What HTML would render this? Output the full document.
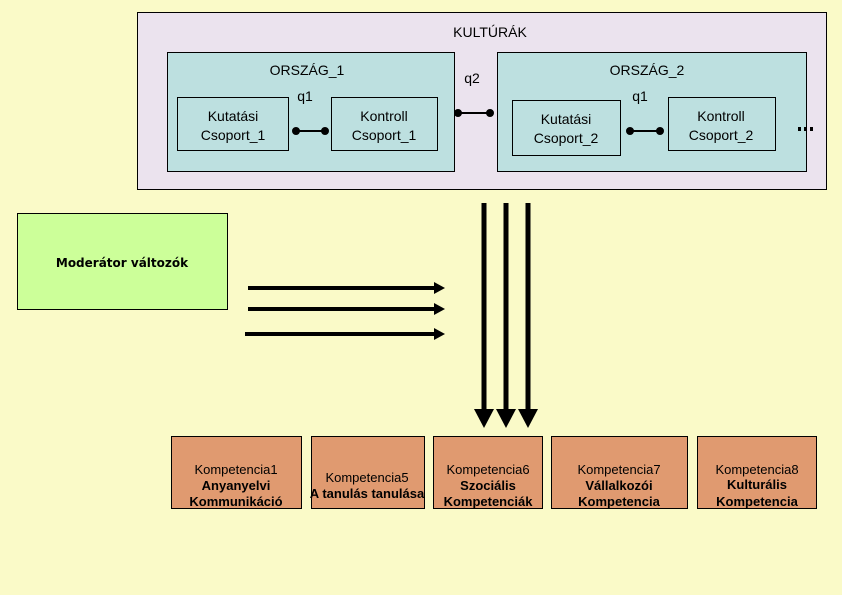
<!DOCTYPE html>
<html><head><meta charset="utf-8"><style>
body{margin:0;width:842px;height:595px;background:#fafac8;overflow:hidden}
svg{display:block}
text{font-family:"Liberation Sans",sans-serif;font-size:13px;fill:#000;text-anchor:middle}
.b{font-weight:bold}
.t{font-size:14px}
</style></head><body>
<svg width="842" height="595" viewBox="0 0 842 595">
<rect x="0" y="0" width="842" height="595" fill="#fafac8"/>
<rect x="137.5" y="12.5" width="689" height="177" fill="#ebe3ee" stroke="#000"/>
<text x="490" y="37" class="t">KULTÚRÁK</text>
<rect x="167.5" y="52.5" width="287" height="119" fill="#bde0e0" stroke="#000"/>
<rect x="497.5" y="52.5" width="309" height="119" fill="#bde0e0" stroke="#000"/>
<text x="307" y="75" class="t">ORSZÁG_1</text>
<text x="647" y="75" class="t">ORSZÁG_2</text>
<text x="472" y="83" class="t">q2</text>
<text x="305" y="101" class="t">q1</text>
<text x="640" y="101" class="t">q1</text>
<rect x="177.5" y="97.5" width="111" height="53" fill="#bde0e0" stroke="#000"/>
<rect x="331.5" y="97.5" width="106" height="53" fill="#bde0e0" stroke="#000"/>
<rect x="512.5" y="100.5" width="108" height="55" fill="#bde0e0" stroke="#000"/>
<rect x="668.5" y="97.5" width="107" height="53" fill="#bde0e0" stroke="#000"/>
<text x="233" y="121" class="t">Kutatási</text><text x="233" y="140" class="t">Csoport_1</text>
<text x="384" y="121" class="t">Kontroll</text><text x="384" y="140" class="t">Csoport_1</text>
<text x="566" y="124" class="t">Kutatási</text><text x="566" y="143" class="t">Csoport_2</text>
<text x="721" y="121" class="t">Kontroll</text><text x="721" y="140" class="t">Csoport_2</text>
<g stroke="#000" stroke-width="2" fill="#000">
<line x1="296" y1="131" x2="325" y2="131"/><circle cx="296" cy="131" r="3"/><circle cx="325" cy="131" r="3"/>
<line x1="458" y1="113" x2="490" y2="113"/><circle cx="458" cy="113" r="3"/><circle cx="490" cy="113" r="3"/>
<line x1="630" y1="131" x2="660" y2="131"/><circle cx="630" cy="131" r="3"/><circle cx="660" cy="131" r="3"/>
</g>
<g fill="#000"><rect x="798" y="127" width="3" height="4"/><rect x="804" y="127" width="3" height="4"/><rect x="810" y="127" width="3" height="4"/></g>
<rect x="17.5" y="213.5" width="210" height="96" fill="#ccff99" stroke="#000"/>
<text x="122" y="267" class="b" style="font-family:'DejaVu Sans',sans-serif;font-size:12px">Moderátor változók</text>
<g stroke="#000" stroke-width="4">
<line x1="248" y1="288" x2="435" y2="288"/>
<line x1="248" y1="309" x2="435" y2="309"/>
<line x1="245" y1="334" x2="435" y2="334"/>
</g>
<g stroke="#000" stroke-width="5">
<line x1="484" y1="203" x2="484" y2="412"/>
<line x1="506" y1="203" x2="506" y2="412"/>
<line x1="528" y1="203" x2="528" y2="412"/>
</g>
<g fill="#000">
<polygon points="434,282 445,288 434,294"/>
<polygon points="434,303 445,309 434,315"/>
<polygon points="434,328 445,334 434,340"/>
<polygon points="474,409 494,409 484,428"/>
<polygon points="496,409 516,409 506,428"/>
<polygon points="518,409 538,409 528,428"/>
</g>
<g fill="#e09a70" stroke="#000">
<rect x="171.5" y="436.5" width="130" height="72"/>
<rect x="311.5" y="436.5" width="113" height="72"/>
<rect x="433.5" y="436.5" width="109" height="72"/>
<rect x="551.5" y="436.5" width="136" height="72"/>
<rect x="697.5" y="436.5" width="119" height="72"/>
</g>
<text x="236" y="474">Kompetencia1</text><text x="236" y="490" class="b">Anyanyelvi</text><text x="236" y="506" class="b">Kommunikáció</text>
<text x="367" y="482">Kompetencia5</text><text x="367" y="498" class="b">A tanulás tanulása</text>
<text x="488" y="474">Kompetencia6</text><text x="488" y="490" class="b">Szociális</text><text x="488" y="506" class="b">Kompetenciák</text>
<text x="619" y="474">Kompetencia7</text><text x="619" y="490" class="b">Vállalkozói</text><text x="619" y="506" class="b">Kompetencia</text>
<text x="757" y="474">Kompetencia8</text><text x="757" y="489" class="b">Kulturális</text><text x="757" y="506" class="b">Kompetencia</text>
</svg>
</body></html>
